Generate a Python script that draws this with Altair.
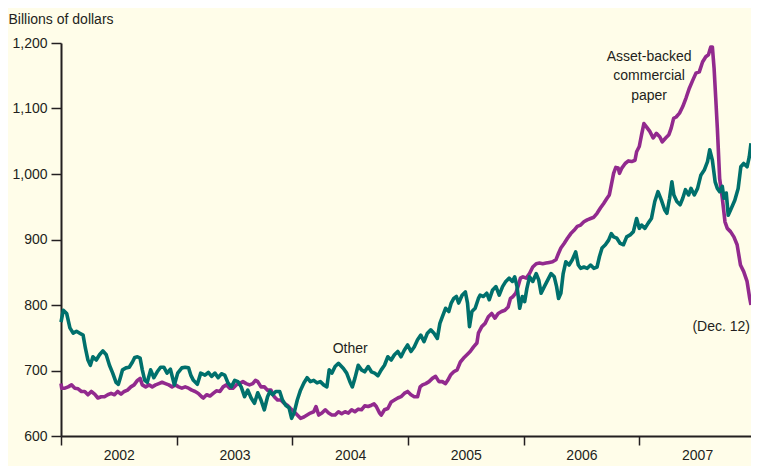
import altair as alt
import pandas as pd

FONT = "Liberation Sans"
INK = "#231F20"
BG = "#FFFDE9"
PURPLE = "#922A8E"
TEAL = "#00706C"

abcp_year = [
    2002.000, 2002.006, 2002.034, 2002.062, 2002.091, 2002.120, 2002.148, 2002.177, 2002.205, 2002.233,
    2002.262, 2002.291, 2002.319, 2002.348, 2002.376, 2002.404, 2002.433, 2002.462, 2002.490, 2002.519,
    2002.547, 2002.575, 2002.604, 2002.632, 2002.661, 2002.684, 2002.703, 2002.732, 2002.761, 2002.789,
    2002.818, 2002.846, 2002.874, 2002.903, 2002.932, 2002.960, 2002.989, 2003.017, 2003.045, 2003.074,
    2003.103, 2003.131, 2003.160, 2003.188, 2003.216, 2003.231, 2003.259, 2003.288, 2003.316, 2003.344,
    2003.374, 2003.402, 2003.430, 2003.459, 2003.487, 2003.515, 2003.544, 2003.573, 2003.601, 2003.630,
    2003.658, 2003.681, 2003.701, 2003.729, 2003.758, 2003.786, 2003.815, 2003.844, 2003.872, 2003.900,
    2003.929, 2003.957, 2003.985, 2004.015, 2004.043, 2004.071, 2004.100, 2004.128, 2004.156, 2004.185,
    2004.205, 2004.228, 2004.256, 2004.285, 2004.314, 2004.342, 2004.370, 2004.399, 2004.427, 2004.456,
    2004.485, 2004.513, 2004.541, 2004.570, 2004.598, 2004.626, 2004.656, 2004.684, 2004.707, 2004.726,
    2004.755, 2004.769, 2004.797, 2004.826, 2004.855, 2004.883, 2004.912, 2004.940, 2004.968, 2004.997,
    2005.026, 2005.054, 2005.083, 2005.105, 2005.126, 2005.154, 2005.182, 2005.211, 2005.239, 2005.268,
    2005.297, 2005.325, 2005.344, 2005.368, 2005.396, 2005.425, 2005.453, 2005.481, 2005.510, 2005.538,
    2005.567, 2005.596, 2005.609, 2005.638, 2005.667, 2005.695, 2005.724, 2005.752, 2005.780, 2005.809,
    2005.838, 2005.866, 2005.886, 2005.909, 2005.932, 2005.951, 2005.972, 2005.994, 2006.023, 2006.051,
    2006.079, 2006.109, 2006.137, 2006.165, 2006.194, 2006.222, 2006.250, 2006.279, 2006.302, 2006.322,
    2006.350, 2006.379, 2006.408, 2006.436, 2006.464, 2006.493, 2006.521, 2006.550, 2006.579, 2006.607,
    2006.635, 2006.664, 2006.692, 2006.721, 2006.741, 2006.758, 2006.778, 2006.797, 2006.818, 2006.829,
    2006.849, 2006.878, 2006.906, 2006.934, 2006.963, 2006.977, 2007.000, 2007.020, 2007.040, 2007.062,
    2007.091, 2007.120, 2007.148, 2007.177, 2007.199, 2007.228, 2007.256, 2007.276, 2007.297, 2007.319,
    2007.348, 2007.376, 2007.404, 2007.433, 2007.462, 2007.490, 2007.519, 2007.547, 2007.575, 2007.598,
    2007.618, 2007.632, 2007.647, 2007.661, 2007.675, 2007.695, 2007.718, 2007.741, 2007.761, 2007.789,
    2007.818, 2007.846, 2007.875, 2007.903, 2007.932, 2007.955, 2007.966,
]
abcp_value = [
    680, 673, 673, 675, 678, 673, 672, 668, 668, 663,
    668, 664, 658, 660, 660, 663, 665, 663, 668, 664,
    668, 670, 675, 678, 685, 688, 678, 675, 678, 675,
    678, 680, 682, 680, 678, 675, 678, 675, 673, 675,
    673, 670, 668, 665, 660, 658, 663, 661, 665, 669,
    668, 675, 678, 673, 673, 678, 680, 683, 680, 678,
    680, 685, 683, 675, 675, 670, 670, 660, 655, 655,
    650, 647, 642, 637, 632, 627, 629, 632, 635, 637,
    645, 632, 635, 640, 635, 632, 632, 637, 634, 637,
    635, 640, 637, 641, 640, 646, 645, 647, 649, 645,
    635, 632, 640, 642, 652, 655, 658, 660, 665, 668,
    663, 660, 660, 675, 678, 680, 683, 688, 691, 683,
    683, 680, 685, 693, 698, 701, 713, 719, 724, 729,
    736, 742, 757, 767, 772, 782, 787, 780, 787, 790,
    792, 797, 810, 813, 818, 828, 841, 843, 841, 848,
    858, 863, 864, 863, 864, 865, 866, 869, 879, 887,
    894, 902, 909, 914, 920, 922, 927, 930, 932, 934,
    940, 948, 955, 963, 968, 983, 1001, 1010, 1009, 1001,
    1009, 1016, 1020, 1019, 1021, 1034, 1042, 1060, 1077, 1072,
    1065, 1055, 1062, 1057, 1049, 1055, 1060, 1070, 1085, 1087,
    1093, 1103, 1116, 1131, 1143, 1154, 1156, 1171, 1179, 1182,
    1194, 1194, 1161, 1116, 1070, 993, 963, 927, 917, 912,
    904, 892, 861, 851, 836, 810, 800,
]

other_year = [
    2002.000, 2002.020, 2002.049, 2002.077, 2002.105, 2002.134, 2002.162, 2002.191, 2002.211, 2002.233,
    2002.254, 2002.276, 2002.305, 2002.333, 2002.362, 2002.391, 2002.419, 2002.447, 2002.476, 2002.496,
    2002.513, 2002.532, 2002.562, 2002.590, 2002.618, 2002.638, 2002.661, 2002.684, 2002.703, 2002.724,
    2002.746, 2002.775, 2002.803, 2002.832, 2002.861, 2002.889, 2002.917, 2002.946, 2002.980, 2003.009,
    2003.045, 2003.074, 2003.103, 2003.122, 2003.145, 2003.179, 2003.208, 2003.245, 2003.274, 2003.302,
    2003.331, 2003.359, 2003.387, 2003.416, 2003.444, 2003.473, 2003.502, 2003.530, 2003.558, 2003.587,
    2003.615, 2003.644, 2003.673, 2003.701, 2003.729, 2003.758, 2003.786, 2003.806, 2003.829, 2003.857,
    2003.891, 2003.915, 2003.943, 2003.972, 2003.994, 2004.015, 2004.043, 2004.071, 2004.100, 2004.128,
    2004.156, 2004.185, 2004.214, 2004.242, 2004.271, 2004.299, 2004.319, 2004.342, 2004.370, 2004.399,
    2004.442, 2004.470, 2004.498, 2004.519, 2004.541, 2004.570, 2004.598, 2004.626, 2004.656, 2004.684,
    2004.712, 2004.741, 2004.769, 2004.797, 2004.826, 2004.855, 2004.883, 2004.912, 2004.940, 2004.968,
    2004.997, 2005.026, 2005.054, 2005.083, 2005.111, 2005.139, 2005.168, 2005.197, 2005.225, 2005.254,
    2005.276, 2005.297, 2005.325, 2005.353, 2005.374, 2005.396, 2005.419, 2005.438, 2005.468, 2005.496,
    2005.515, 2005.532, 2005.553, 2005.581, 2005.609, 2005.624, 2005.652, 2005.681, 2005.703, 2005.732,
    2005.761, 2005.789, 2005.818, 2005.846, 2005.874, 2005.903, 2005.923, 2005.943, 2005.966, 2005.989,
    2006.009, 2006.028, 2006.051, 2006.079, 2006.109, 2006.131, 2006.151, 2006.179, 2006.208, 2006.237,
    2006.265, 2006.285, 2006.302, 2006.322, 2006.342, 2006.365, 2006.393, 2006.421, 2006.450, 2006.473,
    2006.493, 2006.521, 2006.550, 2006.579, 2006.607, 2006.635, 2006.656, 2006.678, 2006.707, 2006.735,
    2006.758, 2006.778, 2006.806, 2006.835, 2006.863, 2006.891, 2006.921, 2006.949, 2006.977, 2007.000,
    2007.020, 2007.049, 2007.077, 2007.105, 2007.134, 2007.162, 2007.191, 2007.220, 2007.239, 2007.262,
    2007.282, 2007.299, 2007.325, 2007.353, 2007.376, 2007.399, 2007.427, 2007.447, 2007.476, 2007.504,
    2007.532, 2007.562, 2007.590, 2007.609, 2007.632, 2007.656, 2007.675, 2007.695, 2007.718, 2007.732,
    2007.752, 2007.769, 2007.797, 2007.826, 2007.855, 2007.878, 2007.903, 2007.932, 2007.951, 2007.966,
]
other_value = [
    774, 792, 787, 765, 757, 760, 757, 754, 734, 716,
    708, 721, 716, 724, 730, 724, 708, 696, 682, 679,
    689, 701, 704, 705, 713, 720, 721, 719, 701, 685,
    682, 701, 689, 698, 705, 705, 696, 702, 678, 696,
    704, 705, 704, 693, 685, 679, 696, 693, 697, 691,
    696, 689, 695, 693, 681, 675, 685, 683, 675, 660,
    670, 658, 650, 666, 655, 640, 660, 668, 663, 668,
    668, 655, 647, 643, 627, 635, 655, 670, 681, 689,
    683, 685, 681, 683, 678, 675, 701, 696, 706, 711,
    703, 696, 683, 675, 688, 708, 701, 698, 706, 698,
    696, 692, 701, 708, 721, 716, 724, 729, 721, 731,
    739, 729, 736, 747, 754, 744, 757, 762, 757, 749,
    772, 782, 795, 790, 803, 810, 813, 803, 815, 820,
    803, 767, 790, 795, 810, 815, 813, 818, 808, 823,
    828, 815, 828, 836, 841, 836, 843, 828, 795, 813,
    805, 825, 843, 836, 848, 838, 818, 828, 838, 848,
    843, 828, 810, 818, 848, 866, 861, 869, 881, 861,
    856, 858, 856, 861, 856, 858, 874, 887, 892, 899,
    909, 904, 902, 894, 892, 904, 907, 912, 932, 917,
    922, 917, 925, 932, 958, 973, 960, 945, 940, 963,
    988, 968, 958, 953, 963, 976, 968, 978, 968, 978,
    998, 1006, 1019, 1037, 1021, 988, 978, 973, 981, 963,
    971, 937, 948, 960, 978, 1011, 1016, 1011, 1026, 1047,
]

series_names = ["Asset-backed commercial paper", "Other"]
series_colors = [PURPLE, TEAL]

y_ticks = [600, 700, 800, 900, 1000, 1100, 1200]
x_ticks = [2002, 2002.5, 2003, 2003.5, 2004, 2004.5, 2005, 2005.5,
           2006, 2006.5, 2007, 2007.5]

# centred annotations
ann_text = ["Other", "Asset-backed\ncommercial\npaper"]
ann_year = [2004.50, 2007.085]
ann_value = [733, 1179]
# right-aligned end note
end_text = ["(Dec. 12)"]
end_year = [2007.966]
end_value = [766]

lines_df = pd.concat([
    pd.DataFrame({"year": abcp_year, "value": abcp_value, "series": series_names[0]}),
    pd.DataFrame({"year": other_year, "value": other_value, "series": series_names[1]}),
], ignore_index=True)
ann_df = pd.DataFrame({"year": ann_year, "value": ann_value, "label": ann_text})
end_df = pd.DataFrame({"year": end_year, "value": end_value, "label": end_text})

x_scale = alt.Scale(domain=[2002, 2007.966], nice=False, zero=False)
y_scale = alt.Scale(domain=[600, 1200], nice=False, zero=False)

x_axis = alt.Axis(
    values=x_ticks,
    labelExpr="datum.value % 1 == 0.5 ? '' + floor(datum.value) : ''",
    tickColor={"condition": {"test": "datum.value % 1 == 0", "value": INK},
               "value": "transparent"},
    tickSize=9, tickWidth=1.5, domainColor=INK, domainWidth=2,
    labelFont=FONT, labelFontSize=14, labelColor=INK, labelPadding=3,
    labelOverlap=False, labelFlush=False, grid=False, title=None,
)
y_axis = alt.Axis(
    values=y_ticks, format=",d",
    tickSize=10, tickWidth=1.5, tickColor=INK, domainColor=INK, domainWidth=2,
    labelFont=FONT, labelFontSize=14, labelColor=INK, labelPadding=4,
    grid=False,
    title="Billions of dollars", titleAngle=0, titleAlign="left",
    titleX=-53, titleY=-20, titleBaseline="alphabetic",
    titleFont=FONT, titleFontSize=14, titleFontWeight="normal", titleColor=INK,
)

lines = alt.Chart(lines_df).mark_line(strokeWidth=3.6, strokeJoin="round").encode(
    x=alt.X("year:Q", scale=x_scale, axis=x_axis),
    y=alt.Y("value:Q", scale=y_scale, axis=y_axis),
    color=alt.Color("series:N", scale=alt.Scale(domain=series_names, range=series_colors),
                    legend=None),
    detail="series:N",
)

labels = alt.Chart(ann_df).mark_text(
    font=FONT, fontSize=14, color=INK, lineBreak="\n", lineHeight=19.5,
    align="center", baseline="middle",
).encode(
    x=alt.X("year:Q", scale=x_scale),
    y=alt.Y("value:Q", scale=y_scale),
    text="label:N",
)

end_label = alt.Chart(end_df).mark_text(
    font=FONT, fontSize=14, color=INK, align="right", baseline="middle", dx=-1,
).encode(
    x=alt.X("year:Q", scale=x_scale),
    y=alt.Y("value:Q", scale=y_scale),
    text="label:N",
)

chart = alt.layer(lines, labels, end_label).properties(
    width=690, height=393, background=BG,
    padding={"left": 53, "top": 35, "right": 0, "bottom": 30},
    autosize=alt.AutoSizeParams(type="none"),
).configure_view(stroke=None)

chart.save("out.html", embed_options={"renderer": "svg", "actions": False})
